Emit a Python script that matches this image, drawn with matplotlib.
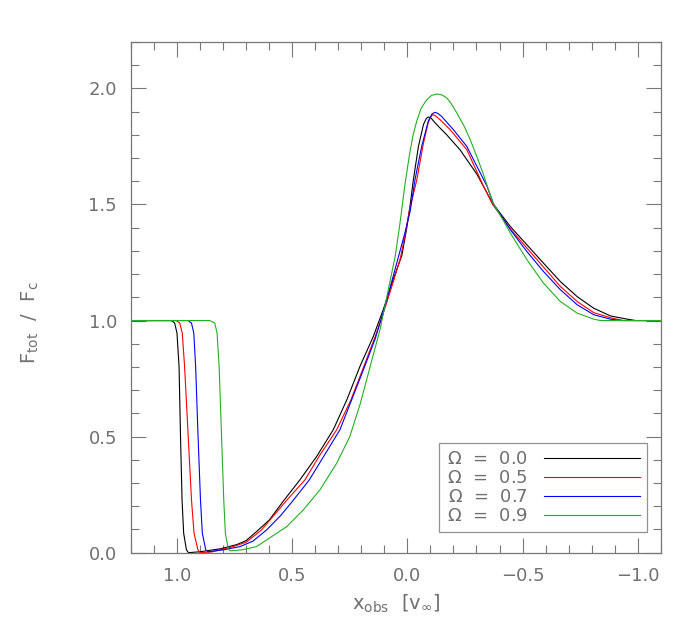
import numpy as np
import matplotlib
matplotlib.use("Agg")
import matplotlib.pyplot as plt

plt.rcParams['mathtext.default'] = 'regular'

# Omega = 0.0
x_00 = [1.2, 1.024, 1.01, 1.0, 0.991, 0.985, 0.978, 0.971, 0.959, 0.95, 0.90, 0.81, 0.74,
        0.70, 0.65, 0.60, 0.54, 0.467, 0.394, 0.322, 0.263, 0.206, 0.148, 0.104, 0.061,
        0.024, 0.003, -0.012, -0.026, -0.048, -0.07, -0.082, -0.091, -0.102, -0.12, -0.145,
        -0.171, -0.229, -0.302, -0.37, -0.447, -0.519, -0.591, -0.664, -0.737, -0.809,
        -0.881, -0.954, -0.99, -1.1]
y_00 = [1.0, 1.0, 0.989, 0.946, 0.802, 0.515, 0.227, 0.084, 0.012, 0.0, 0.004, 0.017, 0.035,
        0.052, 0.095, 0.14, 0.22, 0.313, 0.414, 0.529, 0.658, 0.802, 0.931, 1.049, 1.179,
        1.28, 1.397, 1.497, 1.606, 1.75, 1.845, 1.87, 1.877, 1.873, 1.852, 1.826,
        1.8, 1.735, 1.63, 1.505, 1.405, 1.326, 1.247, 1.168, 1.103, 1.053,
        1.02, 1.006, 1.0, 1.0]

# Omega = 0.5
x_05 = [1.2, 1.003, 0.988, 0.977, 0.967, 0.952, 0.937, 0.926, 0.909, 0.90, 0.85, 0.757,
        0.70, 0.633, 0.58, 0.52, 0.445, 0.38, 0.307, 0.245, 0.19, 0.14, 0.10, 0.06, 0.03,
        0.01, -0.008, -0.041, -0.07, -0.09, -0.1, -0.11, -0.122, -0.142, -0.186, -0.258,
        -0.33, -0.37, -0.447, -0.519, -0.591, -0.664, -0.737, -0.809, -0.881, -0.939, -1.1]
y_05 = [1.0, 1.0, 0.989, 0.946, 0.802, 0.515, 0.227, 0.084, 0.012, 0.0, 0.003, 0.026,
        0.045, 0.098, 0.16, 0.23, 0.313, 0.42, 0.529, 0.658, 0.80, 0.93, 1.045, 1.17, 1.27,
        1.37, 1.47, 1.606, 1.765, 1.85, 1.875, 1.887, 1.882, 1.865, 1.822, 1.736,
        1.58, 1.50, 1.395, 1.312, 1.23, 1.147, 1.082, 1.034, 1.012, 1.0, 1.0]

# Omega = 0.7
x_07 = [1.2, 0.952, 0.937, 0.927, 0.919, 0.909, 0.898, 0.89, 0.875, 0.865, 0.80, 0.727,
        0.67, 0.611, 0.55, 0.50, 0.426, 0.36, 0.293, 0.242, 0.19, 0.14, 0.105, 0.07, 0.04,
        0.01, -0.012, -0.033, -0.062, -0.091, -0.107, -0.12, -0.133, -0.149, -0.2, -0.258,
        -0.345, -0.375, -0.447, -0.519, -0.591, -0.664, -0.737, -0.809, -0.881, -0.925, -1.1]
y_07 = [1.0, 1.0, 0.989, 0.946, 0.802, 0.515, 0.227, 0.084, 0.012, 0.004, 0.012, 0.026,
        0.05, 0.098, 0.16, 0.22, 0.313, 0.42, 0.529, 0.658, 0.79, 0.92, 1.035, 1.16, 1.27,
        1.38, 1.47, 1.606, 1.75, 1.86, 1.89, 1.897, 1.892, 1.879, 1.822, 1.75,
        1.58, 1.50, 1.391, 1.297, 1.211, 1.133, 1.068, 1.025, 1.006, 1.0, 1.0]

# Omega = 0.9
x_09 = [1.2, 0.858, 0.836, 0.826, 0.817, 0.807, 0.797, 0.79, 0.778, 0.77, 0.72, 0.655,
        0.611, 0.524, 0.452, 0.38, 0.307, 0.25, 0.205, 0.162, 0.119, 0.083, 0.053, 0.032,
        0.01, -0.01, -0.025, -0.041, -0.06, -0.084, -0.105, -0.13, -0.15, -0.171, -0.19,
        -0.215, -0.245, -0.273, -0.30, -0.33, -0.37, -0.417, -0.447, -0.519, -0.591,
        -0.664, -0.737, -0.809, -0.838, -1.1]
y_09 = [1.0, 1.0, 0.989, 0.946, 0.802, 0.515, 0.227, 0.084, 0.019, 0.008, 0.012, 0.026,
        0.055, 0.112, 0.184, 0.27, 0.385, 0.50, 0.64, 0.80, 0.96, 1.132, 1.276, 1.42,
        1.59, 1.72, 1.80, 1.86, 1.915, 1.951, 1.97, 1.976, 1.972, 1.959, 1.935,
        1.894, 1.84, 1.779, 1.71, 1.63, 1.51, 1.43, 1.377, 1.262, 1.161,
        1.082, 1.032, 1.006, 1.0, 1.0]

labels = [r'$\Omega$  =  0.0', r'$\Omega$  =  0.5', r'$\Omega$  =  0.7', r'$\Omega$  =  0.9']
colors = ['black', '#ff0000', '#0000ff', '#22b022']

txt = '#707070'
frame = '#777777'

fig = plt.figure(figsize=(7, 6.36), dpi=100)
ax = fig.add_axes([0.187, 0.131, 0.757, 0.803])

for xs, ys, lab, c in zip([x_00, x_05, x_07, x_09], [y_00, y_05, y_07, y_09], labels, colors):
    ax.plot(xs, ys, color=c, lw=0.8, label=lab)

ax.set_xlim(1.2, -1.1)
ax.set_ylim(0, 2.2)
ax.set_xticks([1.0, 0.5, 0.0, -0.5, -1.0])
ax.set_xticklabels(['1.0', '0.5', '0.0', '\u22120.5', '\u22121.0'])
ax.set_yticks([0.0, 0.5, 1.0, 1.5, 2.0])
ax.set_xticks(np.arange(-1.1, 1.21, 0.1), minor=True)
ax.set_yticks(np.arange(0, 2.21, 0.1), minor=True)
ax.tick_params(which='both', direction='in', top=True, right=True, colors=frame,
               labelcolor=txt, labelsize=13, width=0.8)
ax.tick_params(which='major', length=11, pad=10)
ax.tick_params(which='minor', length=6)
for s in ax.spines.values():
    s.set_color(frame)
    s.set_linewidth(0.9)

ax.set_xlabel(r'$\mathrm{x}_{\mathrm{obs}}\ \ \left[\mathrm{v}_{\infty}\right]$', color=txt,
              fontsize=14, labelpad=6)
ax.set_ylabel(r'$\mathrm{F}_{\mathrm{tot}}\ \ /\ \ \mathrm{F}_{\mathrm{c}}$', color=txt,
              fontsize=14, labelpad=24)
ax.yaxis.set_label_coords(-0.17, 0.45)

leg = ax.legend(loc='lower right', bbox_to_anchor=(0.974, 0.04), borderaxespad=0,
                markerfirst=False, handlelength=5.3, fontsize=13, frameon=True,
                fancybox=False, labelspacing=0.05, borderpad=0.4, handletextpad=0.9)
leg.get_frame().set_edgecolor(frame)
leg.get_frame().set_linewidth(0.9)
for t in leg.get_texts():
    t.set_color(txt)

fig.savefig('out.png', dpi=100)
